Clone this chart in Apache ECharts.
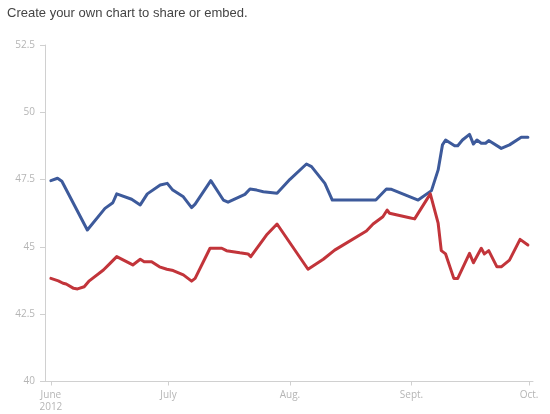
<!DOCTYPE html>
<html>
<head>
<meta charset="utf-8">
<script src="https://cdn.jsdelivr.net/npm/echarts@6/dist/echarts.min.js"></script>
<style>
  html, body {margin: 0; padding: 0; background: #fff;}
  #container {width: 550px; height: 414px;}
</style>
</head>
<body>
<div id="container"></div>
<script>
// x values are days counted from June 1, 2012
var monthDays = [0, 30, 61, 92, 122];
var monthLabels = ['June\n2012', 'July', 'Aug.', 'Sept.', 'Oct.'];

// blue line
var blueDays = [0, 1.7, 2.8, 9.3, 9.8, 13.8, 15.8, 16.8, 20.6, 22.8, 24.6, 27.9, 29.7, 31.1, 33.8, 35.9, 36.8,
    40.8, 44, 45.2, 49.5, 50.8, 52.5, 54.2, 57.7, 61, 65.2, 66.5, 69.9, 71.8, 82.9, 85.6, 86.9, 93.7,
    97.1, 98.8, 99.9, 100.7, 103, 103.8, 105, 106.8, 107.8, 108.7, 109.8, 110.9, 111.7, 114.9, 117, 120, 121.7];
var blueValues = [47.46, 47.55, 47.44, 45.63, 45.69, 46.43, 46.64, 46.97, 46.77, 46.56, 46.97, 47.3, 47.36, 47.11, 46.86, 46.46, 46.59,
    47.46, 46.74, 46.66, 46.95, 47.15, 47.11, 47.05, 46.99, 47.51, 48.08, 47.98, 47.36, 46.74, 46.74, 47.15, 47.14, 46.74,
    47.09, 47.86, 48.79, 48.97, 48.76, 48.76, 48.97, 49.18, 48.82, 48.97, 48.85, 48.85, 48.95, 48.66, 48.79, 49.07, 49.07];

// red line
var redDays = [0, 1.9, 3.1, 3.9, 5.8, 6.8, 8.5, 9.8, 13.4, 15.1, 16.8, 20.9, 22.8, 23.8, 25.7, 27.7, 29.6, 31.2,
    33.8, 35.9, 36.8, 40.6, 43.6, 44.8, 48.2, 50.3, 51, 55, 57.7, 65.6, 69.5, 72.4, 80.5, 82.2, 84.7, 85.8, 86.4,
    91.5, 92.8, 96.8, 98.8, 99.6, 100.7, 102.8, 103.8, 106.8, 107.8, 109.8, 110.6, 111.7, 113.8, 114.9, 117, 119.7, 121.7];
var redValues = [43.83, 43.74, 43.65, 43.62, 43.46, 43.44, 43.52, 43.74, 44.14, 44.39, 44.64, 44.33, 44.54, 44.45, 44.45, 44.26, 44.17, 44.12,
    43.96, 43.73, 43.83, 44.95, 44.95, 44.86, 44.78, 44.74, 44.64, 45.44, 45.85, 44.17, 44.54, 44.88, 45.59, 45.85, 46.12, 46.37, 46.25,
    46.08, 46.04, 46.97, 45.88, 44.86, 44.74, 43.83, 43.83, 44.76, 44.41, 44.95, 44.74, 44.86, 44.26, 44.26, 44.51, 45.28, 45.07];

function pairs(xs, ys) {
    var out = [];
    for (var i = 0; i < xs.length; i++) {
        out.push([xs[i], ys[i]]);
    }
    return out;
}

var dom = document.getElementById('container');
var myChart = echarts.init(dom, null, {renderer: 'canvas'});
var labelStyle = {color: '#b5b5b5', fontSize: 10, fontFamily: 'Open Sans'};
var option = {
    animation: false,
    title: {
        text: 'Create your own chart to share or embed.',
        left: 7,
        top: 7,
        padding: 0,
        textStyle: {color: '#444', fontSize: 13, fontWeight: 'normal', fontFamily: 'Liberation Sans'}
    },
    grid: {left: 45, right: 17, top: 45, bottom: 32.5, containLabel: false, outerBoundsMode: 'none'},
    xAxis: {
        type: 'value',
        min: -1.5,
        max: 123,
        splitLine: {show: false},
        axisLine: {show: true, onZero: false, lineStyle: {color: '#d0d0d0', width: 1}},
        axisTick: {show: true, customValues: monthDays, length: 4, lineStyle: {color: '#d0d0d0'}},
        axisLabel: {
            customValues: monthDays,
            margin: 8,
            lineHeight: 12,
            color: labelStyle.color,
            fontSize: 10,
            fontFamily: labelStyle.fontFamily,
            formatter: function (v) {
                var i = monthDays.indexOf(Math.round(v));
                return i >= 0 ? monthLabels[i] : '';
            }
        }
    },
    yAxis: {
        type: 'value',
        min: 40,
        max: 52.5,
        interval: 2.5,
        splitLine: {show: false},
        axisLine: {show: true, onZero: false, lineStyle: {color: '#d0d0d0', width: 1}},
        axisTick: {show: true, length: 5, lineStyle: {color: '#d0d0d0'}},
        axisLabel: {margin: 10, color: labelStyle.color, fontSize: 10, fontFamily: labelStyle.fontFamily}
    },
    series: [
        {
            name: 'blue',
            type: 'line',
            data: pairs(blueDays, blueValues),
            showSymbol: false,
            symbol: 'none',
            lineStyle: {color: '#3d5a9b', width: 3, join: 'round', cap: 'round'},
            emphasis: {disabled: true}
        },
        {
            name: 'red',
            type: 'line',
            data: pairs(redDays, redValues),
            showSymbol: false,
            symbol: 'none',
            lineStyle: {color: '#c2343a', width: 3, join: 'round', cap: 'round'},
            emphasis: {disabled: true}
        }
    ]
};
myChart.setOption(option, true);
</script>
</body>
</html>
